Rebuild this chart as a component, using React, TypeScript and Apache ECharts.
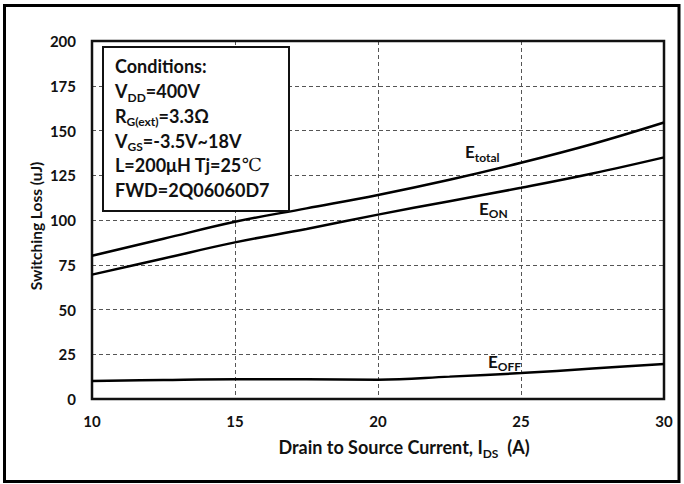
import React, { useEffect, useRef } from "react";
import * as echarts from "echarts";

const currents = [10, 12.5, 15, 17.5, 20, 22.5, 25, 27.5, 30];
const eTotal = [80, 89.5, 99, 106.5, 114, 122.5, 132, 142.5, 154.5];
const eOn = [69.5, 78.5, 87.5, 95, 103, 110.5, 118, 126, 135];
const eOff = [10, 10.6, 11, 11, 10.8, 12.5, 14.5, 17, 19.6];

const conditionLines = [
  "{m|Conditions:}",
  "{m|V}{s|DD}{m|=400V}",
  "{m|R}{s|G(ext)}{m|=3.3Ω}",
  "{m|V}{s|GS}{m|=-3.5V~18V}",
  "{m|L=200μH Tj=25}{c|℃}",
  "{m|FWD=2Q06060D7}",
];

const FONT = "Lato";

const richBase = (size: number, sub: number) => ({
  m: { fontSize: size, fontWeight: "bold", fontFamily: FONT, lineHeight: size + 6, fill: "#111" },
  s: { fontSize: sub, fontWeight: "bold", fontFamily: FONT, lineHeight: sub, verticalAlign: "bottom", fill: "#111" },
  c: { fontSize: size, fontWeight: "normal", fontFamily: "DejaVu Serif", lineHeight: size + 6, fill: "#111" },
});

export default function App() {
  const ref = useRef<HTMLDivElement>(null);
  useEffect(() => {
    if (!ref.current) return;
    const chart = echarts.init(ref.current, undefined, { renderer: "svg" });
    const toPairs = (ys: number[]) => currents.map((x, i) => [x, ys[i]]);
    const lineSeries = (name: string, ys: number[]) => ({
      name,
      type: "line",
      data: toPairs(ys),
      smooth: 0.4,
      showSymbol: false,
      symbol: "none",
      lineStyle: { color: "#000", width: 2.5 },
      z: 5,
    });
    const condTexts = conditionLines.map((t, i) => ({
      type: "text",
      x: 115,
      y: [65.5, 91, 115.5, 140.5, 164.5, 189.5][i],
      z: 20,
      style: { text: t, rich: richBase(18, 12), align: "left", verticalAlign: "middle" },
    }));
    chart.setOption({
      animation: false,
      backgroundColor: "#fff",
      grid: {
        left: 92,
        right: 20,
        top: 41,
        bottom: 85,
        show: true,
        borderColor: "#111",
        borderWidth: 2.5,
        backgroundColor: "transparent",
        z: 4,
      },
      xAxis: {
        type: "value",
        min: 10,
        max: 30,
        interval: 5,
        axisLine: { show: false },
        axisTick: { show: false },
        axisLabel: { margin: 14, fontSize: 15, fontWeight: "bold", fontFamily: FONT, color: "#111" },
        splitLine: { show: true, lineStyle: { color: "#555", type: [4, 3], width: 1 } },
      },
      yAxis: {
        type: "value",
        min: 0,
        max: 200,
        interval: 25,
        axisLine: { show: false },
        axisTick: { show: false },
        axisLabel: { margin: 16, fontSize: 15, fontWeight: "bold", fontFamily: FONT, color: "#111" },
        splitLine: { show: true, lineStyle: { color: "#555", type: [4, 3], width: 1 } },
      },
      series: [lineSeries("E_total", eTotal), lineSeries("E_ON", eOn), lineSeries("E_OFF", eOff)],
      graphic: [
        {
          type: "rect",
          shape: { x: 4.5, y: 5.5, width: 674.5, height: 476 },
          style: { fill: "none", stroke: "#000", lineWidth: 3 },
          z: 30,
        },
        {
          type: "rect",
          shape: { x: 103, y: 47, width: 186, height: 164 },
          style: { fill: "#fff", stroke: "#111", lineWidth: 2 },
          z: 15,
        },
        ...condTexts,
        {
          type: "text",
          x: 465,
          y: 151.5,
          z: 20,
          style: { text: "{m|E}{s|total}", rich: richBase(17, 12), align: "left", verticalAlign: "middle" },
        },
        {
          type: "text",
          x: 479,
          y: 208,
          z: 20,
          style: { text: "{m|E}{s|ON}", rich: richBase(17, 12), align: "left", verticalAlign: "middle" },
        },
        {
          type: "text",
          x: 488,
          y: 361,
          z: 20,
          style: { text: "{m|E}{s|OFF}", rich: richBase(17, 12), align: "left", verticalAlign: "middle" },
        },
        {
          type: "text",
          x: 404,
          y: 447,
          z: 20,
          style: {
            text: "{m|Drain to Source Current, I}{s|DS}{m|  (A)}",
            rich: richBase(18, 12),
            align: "center",
            verticalAlign: "middle",
          },
        },
        {
          type: "text",
          x: 36,
          y: 226,
          rotation: Math.PI / 2,
          z: 20,
          style: {
            text: "Switching Loss (uJ)",
            fontSize: 15.5,
            fontWeight: "bold",
            fontFamily: FONT,
            fill: "#111",
            align: "center",
            verticalAlign: "middle",
          },
        },
      ],
    });
    return () => chart.dispose();
  }, []);
  return (
    <div
      ref={ref}
      style={{ position: "absolute", left: 0, top: 0, width: 684, height: 484, background: "#fff" }}
    />
  );
}
